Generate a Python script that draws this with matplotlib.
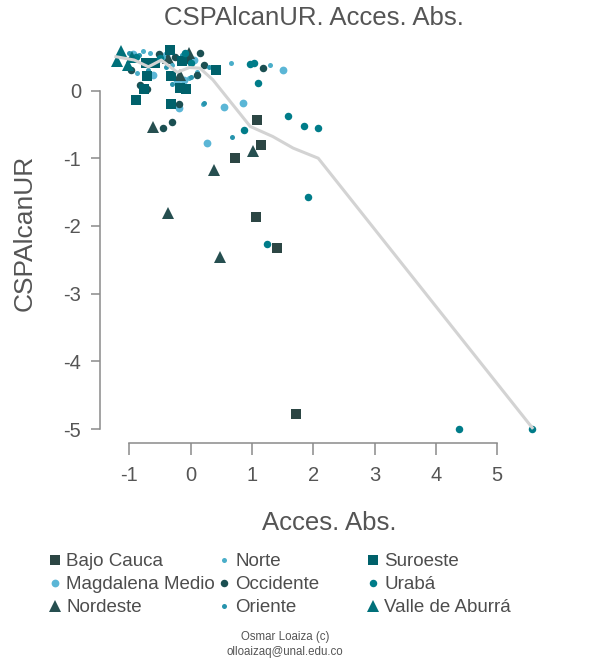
import matplotlib
matplotlib.use('Agg')
import matplotlib.pyplot as plt
from matplotlib.lines import Line2D

plt.rcParams['font.family'] = ['Liberation Sans', 'DejaVu Sans']
plt.rcParams['axes.unicode_minus'] = False

# data
bajo_cauca_x = [1.08, 1.15, 0.73, 1.07, 1.41, 1.72]
bajo_cauca_y = [-0.43, -0.81, -1.00, -1.87, -2.33, -4.78]

magdalena_x = [1.50, 0.85, 0.54, 0.27, -0.19, -0.61, -0.23, -0.11, -0.94, -0.40, 0.05]
magdalena_y = [0.31, -0.19, -0.24, -0.78, -0.26, 0.23, 0.16, 0.16, 0.54, 0.52, 0.45]

nordeste_x = [-0.62, 0.38, -0.37, 0.48, 1.01, -0.37, -0.17, -0.02]
nordeste_y = [-0.54, -1.17, -1.81, -2.46, -0.89, 0.48, 0.23, 0.55]

norte_x = [0.65, 1.29, 0.20, -0.02, -0.66, -0.78, -0.87, -0.45, -0.30, 0.10]
norte_y = [0.40, 0.38, -0.20, 0.18, 0.55, 0.58, 0.26, 0.50, 0.38, 0.28]

occidente_x = [1.18, -0.19, -0.31, -0.45, -0.82, -0.72, -0.51, 0.15, 0.21, 0.10, -0.98, -0.25, -0.05]
occidente_y = [0.33, -0.20, -0.47, -0.56, 0.08, 0.02, 0.54, 0.55, 0.38, 0.23, 0.30, 0.50, 0.45]

oriente_x = [0.67, 0.21, -1.00, -0.85, -0.60, -0.40, -0.15, 0.00, -0.70, -0.30, 0.30]
oriente_y = [-0.68, -0.18, 0.55, 0.52, 0.45, 0.35, 0.52, 0.20, 0.30, 0.10, 0.35]

suroeste_x = [-0.89, -0.32, -0.34, 0.41, -0.72, -0.77, -0.17, -0.08, -0.32, -0.73, -0.15, -0.58]
suroeste_y = [-0.14, -0.20, 0.60, 0.31, 0.21, 0.02, 0.04, 0.02, 0.21, 0.40, 0.43, 0.40]

uraba_x = [0.96, 1.04, 1.10, 1.59, 1.85, 2.08, 0.87, 1.91, 1.25, 4.37, 5.56, -0.90, -0.50, -0.10, 0.00]
uraba_y = [0.39, 0.41, 0.11, -0.37, -0.53, -0.56, -0.59, -1.58, -2.26, -5.00, -5.00, 0.50, 0.48, 0.55, 0.40]

valle_x = [-1.13, -1.21, -1.03, -0.95]
valle_y = [0.58, 0.43, 0.38, 0.50]

trend_x = [-1.22, -0.92, -0.69, -0.48, -0.22, -0.02, 0.15, 0.36, 0.97, 1.34, 1.67, 2.08, 5.57]
trend_y = [0.50, 0.45, 0.35, 0.45, 0.27, 0.34, 0.33, 0.16, -0.53, -0.68, -0.85, -1.00, -4.98]

x_ticks = [-1, 0, 1, 2, 3, 4, 5]
y_ticks = [0, -1, -2, -3, -4, -5]

# (label, x, y, marker, size, colour)
groups = [
    ('Bajo Cauca', bajo_cauca_x, bajo_cauca_y, 's', 7.0, '#2c4644'),
    ('Magdalena Medio', magdalena_x, magdalena_y, 'o', 5.6, '#5bb6d6'),
    ('Nordeste', nordeste_x, nordeste_y, '^', 8.0, '#264f50'),
    ('Norte', norte_x, norte_y, 'o', 3.6, '#4aaec9'),
    ('Occidente', occidente_x, occidente_y, 'o', 5.4, '#1b4f52'),
    ('Oriente', oriente_x, oriente_y, 'o', 3.6, '#2794ad'),
    ('Suroeste', suroeste_x, suroeste_y, 's', 7.0, '#00616b'),
    ('Urabá', uraba_x, uraba_y, 'o', 5.4, '#007c89'),
    ('Valle de Aburrá', valle_x, valle_y, '^', 8.0, '#00707a'),
]

fig = plt.figure(figsize=(5.99, 6.62), dpi=100)
ax = fig.add_axes([0.1669, 0.3304, 0.740, 0.6065])

handles = []
for name, xs, ys, mk, ms, col in groups:
    ax.plot(xs, ys, linestyle='none', marker=mk, markersize=ms, color=col,
            markeredgewidth=0, zorder=2)
    handles.append(Line2D([], [], linestyle='none', marker=mk, markersize=ms,
                          color=col, markeredgewidth=0, label=name))

ax.plot(trend_x, trend_y, color='#d3d3d3', linewidth=2.2, zorder=3)

ax.set_xlim(-1.48, 5.75)
ax.set_ylim(-5.21, 0.72)
ax.set_xticks(x_ticks)
ax.set_yticks(y_ticks)
ax.set_xticklabels([str(t) for t in x_ticks])
ax.set_yticklabels([str(t) for t in y_ticks])

for s in ['top', 'right']:
    ax.spines[s].set_visible(False)
ax.spines['left'].set_bounds(-5, 0)
ax.spines['bottom'].set_bounds(-1, 5)
for s in ['left', 'bottom']:
    ax.spines[s].set_color('#8a8a8a')
    ax.spines[s].set_linewidth(1.1)
ax.tick_params(axis='x', length=8.4, width=1.1, color='#8a8a8a', pad=8,
               labelsize=14.5, labelcolor='#555555')
ax.tick_params(axis='y', length=6.7, width=1.1, color='#8a8a8a', pad=7,
               labelsize=14.5, labelcolor='#555555')

fig.text(314 / 599, 1 - 18 / 662, 'CSPAlcanUR. Acces. Abs.', ha='center', va='center',
         fontsize=18.5, color='#555555')
fig.text(329 / 599, 1 - 523 / 662, 'Acces. Abs.', ha='center', va='center',
         fontsize=18.5, color='#555555')
fig.text(25 / 599, 1 - 233 / 662, 'CSPAlcanUR', ha='center', va='center',
         rotation=90, fontsize=19, color='#555555')

col_left = [49.4, 218.4, 367.4]
for i in range(3):
    fig.legend(handles=handles[i * 3:(i + 1) * 3], loc='upper left',
               bbox_to_anchor=(col_left[i] / 599, 1 - 553 / 662),
               frameon=False, fontsize=13.5, labelcolor='#4d4d4d',
               handlelength=0.6, handletextpad=0.3, labelspacing=0.32,
               borderpad=0, borderaxespad=0)

fig.text(285 / 599, 1 - 637 / 662, 'Osmar Loaiza (c)', ha='center', va='center',
         fontsize=8.3, color='#555555')
fig.text(285 / 599, 1 - 652 / 662, 'olloaizaq@unal.edu.co', ha='center', va='center',
         fontsize=8.3, color='#555555')

fig.savefig('out.png', dpi=100)
